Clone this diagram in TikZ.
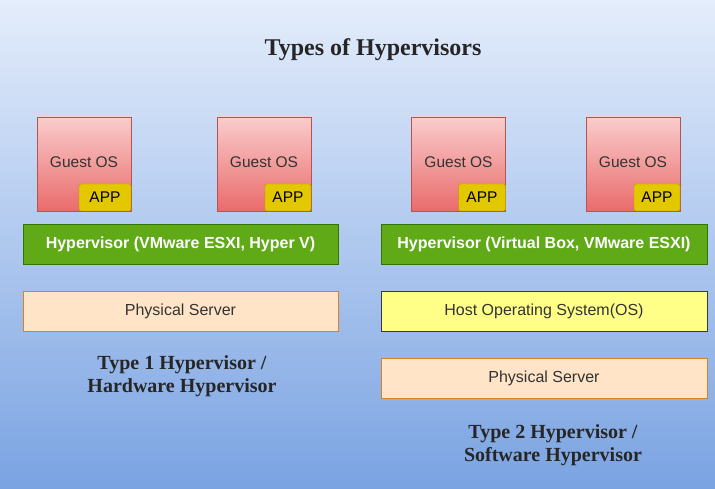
\documentclass[tikz,border=0pt]{standalone}
\usepackage{fontspec}
\setmainfont{Liberation Serif}
\setsansfont{Liberation Sans}
\begin{document}
\begin{tikzpicture}[x=1pt,y=-1pt,
  guest/.style={draw=guestline,top color=guesttop,bottom color=guestbot,minimum width=94pt,minimum height=94pt,inner sep=0pt},
  guesttext/.style={text=black!80,font=\sffamily\fontsize{15.5}{17}\selectfont},
  app/.style={draw=appline,fill=appfill,rounded corners=2pt,minimum width=52pt,minimum height=27pt,inner sep=0pt,font=\sffamily\fontsize{15.5}{17}\selectfont},
  hyp/.style={draw=hypline,fill=hypfill,minimum width=315pt,minimum height=40pt,inner sep=0pt,text=white,font=\sffamily\bfseries\fontsize{16}{18}\selectfont},
  layer/.style={minimum height=40pt,inner sep=0pt,font=\sffamily\fontsize{16}{18}\selectfont,text=black!80},
  phys/.style={layer,draw=physline,fill=physfill},
  host/.style={layer,draw=hostline,fill=hostfill},
  captext/.style={align=center,font=\bfseries\fontsize{20}{23.5}\selectfont,text=black!85}
]
\definecolor{bgtop}{RGB}{228,237,251}
\definecolor{bgbot}{RGB}{122,163,226}
\definecolor{guestline}{RGB}{184,84,80}
\definecolor{guesttop}{RGB}{250,204,204}
\definecolor{guestbot}{RGB}{234,107,107}
\definecolor{appline}{RGB}{176,150,0}
\definecolor{appfill}{RGB}{227,200,0}
\definecolor{hypline}{RGB}{45,118,0}
\definecolor{hypfill}{RGB}{96,169,23}
\definecolor{physline}{RGB}{215,130,40}
\definecolor{physfill}{RGB}{255,228,200}
\definecolor{hostline}{RGB}{54,57,61}
\definecolor{hostfill}{RGB}{255,255,136}
\shade[top color=bgtop,bottom color=bgbot] (0,0) rectangle (715,489);
\useasboundingbox (0,0) rectangle (715,489);

\node[font=\bfseries\fontsize{24}{26}\selectfont,text=black!85] (title) at (373,50) {Types of Hypervisors};

% Type 1
\node[guest] (g1) at (84,164) {};
\node[guesttext] (g1t) at (84,162) {Guest OS};
\node[app,anchor=south east] (a1) at (g1.south east) {APP};
\node[guest] (g2) at (264,164) {};
\node[guesttext] (g2t) at (264,162) {Guest OS};
\node[app,anchor=south east,minimum width=46pt] (a2) at (g2.south east) {APP};
\node[hyp] (h1) at (180.5,244) {Hypervisor (VMware ESXI, Hyper V)};
\node[phys,minimum width=315pt] (p1) at (180.5,311) {Physical Server};
\node[captext] (c1) at (182,376) {Type 1 Hypervisor /\\Hardware Hypervisor};

% Type 2
\node[guest] (g3) at (458.5,164) {};
\node[guesttext] (g3t) at (458.5,162) {Guest OS};
\node[app,anchor=south east,minimum width=47pt] (a3) at (g3.south east) {APP};
\node[guest] (g4) at (633,164) {};
\node[guesttext] (g4t) at (633,162) {Guest OS};
\node[app,anchor=south east,minimum width=46pt] (a4) at (g4.south east) {APP};
\node[hyp,minimum width=326pt] (h2) at (544,244) {Hypervisor (Virtual Box, VMware ESXI)};
\node[host,minimum width=326pt] (o2) at (544,311) {Host Operating System(OS)};
\node[phys,minimum width=326pt] (p2) at (544,378) {Physical Server};
\node[captext] (c2) at (553,445) {Type 2 Hypervisor /\\Software Hypervisor};
\end{tikzpicture}
\end{document}
